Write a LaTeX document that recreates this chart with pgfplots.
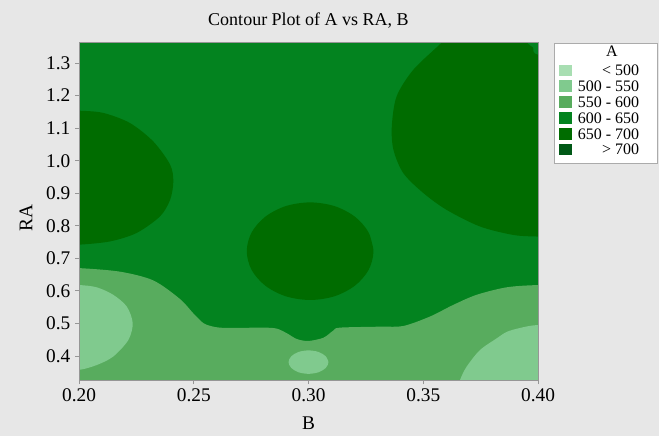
\documentclass[border=0pt]{standalone}
\usepackage{pgfplots}
\pgfplotsset{compat=1.18}
\usepackage{fontspec}
\setmainfont{Liberation Serif}
\definecolor{bggray}{RGB}{231,231,231}
\definecolor{c500}{RGB}{168,222,178}
\definecolor{c550}{RGB}{128,202,142}
\definecolor{c600}{RGB}{88,172,94}
\definecolor{c650}{RGB}{3,131,31}
\definecolor{c700}{RGB}{0,108,0}
\definecolor{c750}{RGB}{0,88,22}
\definecolor{framegray}{RGB}{150,150,150}
\begin{document}
\begin{tikzpicture}
\fill[bggray] (0,0) rectangle (494.25pt,327pt);
\begin{axis}[
  at={(59.25pt,42pt)}, anchor=south west,
  scale only axis, width=344.25pt, height=252.75pt,
  xmin=0.2, xmax=0.4, ymin=0.326, ymax=1.362,
  axis background/.style={fill=c650},
  axis on top,
  axis line style={framegray, line width=0.75pt},
  xtick={0.2,0.25,0.3,0.35,0.4},
  ytick={0.4,0.5,0.6,0.7,0.8,0.9,1.0,1.1,1.2,1.3},
  tick pos=left,
  tick align=outside, major tick length=3pt,
  tick style={framegray, line width=0.6pt},
  /pgf/number format/assume math mode=true,
  xticklabel style={/pgf/number format/fixed, /pgf/number format/fixed zerofill, /pgf/number format/precision=2},
  yticklabel style={/pgf/number format/fixed, /pgf/number format/fixed zerofill, /pgf/number format/precision=1},
  tick label style={font=\fontsize{14.5}{17}\selectfont},
  title={Contour Plot of A vs RA, B},
  every axis title/.style={at={(axis description cs:0.5,1)}, anchor=base, yshift=13.1pt, font=\fontsize{13.5}{16}\selectfont},
  xlabel={B}, ylabel={RA},
  every axis x label/.style={at={(axis description cs:0.5,0)}, anchor=base, yshift=-36.75pt, font=\fontsize{14.5}{17}\selectfont},
  every axis y label/.style={at={(axis description cs:-0.1155,0.48)}, rotate=90, anchor=center, font=\fontsize{14.5}{17}\selectfont},
  legend style={at={(axis description cs:1.0349,1)}, anchor=north west, fill=white, draw=framegray!80, line width=0.6pt,
    inner xsep=3.75pt, inner ysep=0pt, column sep=2.25pt, row sep=0pt,
    nodes={inner sep=0pt, text depth=}, cells={anchor=base west},
    font=\fontsize{12}{14}\selectfont},
]
% 550 - 600 band
\addplot[fill=c600, draw=none, smooth, tension=0.5, forget plot] coordinates {
(0.19,0.670) (0.2000,0.670) (0.2179,0.659) (0.2324,0.632) (0.2440,0.575) (0.2498,0.531) (0.2542,0.501)
(0.2585,0.490) (0.2644,0.486) (0.2803,0.487) (0.2861,0.484) (0.2905,0.470) (0.2949,0.452) (0.2999,0.446)
(0.3065,0.456) (0.3108,0.478) (0.3137,0.487) (0.3312,0.490) (0.3413,0.492) (0.3529,0.521) (0.3631,0.557)
(0.3733,0.588) (0.3864,0.611) (0.4000,0.618) (0.42,0.620) (0.42,0.29) (0.19,0.29)} -- cycle;
% 500 - 550 regions
\addplot[fill=c550, draw=none, smooth, tension=0.5, forget plot] coordinates {
(0.19,0.619) (0.2,0.618) (0.2077,0.611) (0.2149,0.588) (0.2208,0.552) (0.2234,0.501) (0.2215,0.449)
(0.2149,0.398) (0.2077,0.372) (0.2,0.357) (0.19,0.355)} -- cycle;
\addplot[fill=c550, draw=none, smooth, tension=0.55, forget plot] coordinates {
(0.3087,0.381) (0.3075,0.399) (0.30435,0.4122) (0.300,0.417) (0.29565,0.4122) (0.2925,0.399)
(0.2913,0.381) (0.2925,0.363) (0.29565,0.3498) (0.300,0.345) (0.30435,0.3498) (0.3075,0.363)
(0.3087,0.381) (0.3075,0.399)} -- cycle;
\addplot[fill=c550, draw=none, smooth, tension=0.5, forget plot] coordinates {
(0.3645,0.29) (0.3660,0.326) (0.3689,0.367) (0.3747,0.418) (0.3820,0.454) (0.3864,0.474)
(0.3922,0.486) (0.4,0.495) (0.42,0.497) (0.42,0.29)} -- cycle;
% 650 - 700 regions
\addplot[fill=c700, draw=none, smooth, tension=0.5, forget plot] coordinates {
(0.19,1.155) (0.2,1.154) (0.2106,1.147) (0.2222,1.116) (0.2324,1.059) (0.2397,0.988) (0.2411,0.936)
(0.2397,0.880) (0.2353,0.829) (0.2251,0.778) (0.2135,0.752) (0.2,0.742) (0.19,0.741)} -- cycle;
\addplot[fill=c700, draw=none, smooth, tension=0.55, forget plot] coordinates {
(0.3283,0.722) (0.3262,0.7794) (0.3202,0.8281) (0.3113,0.8606) (0.3007,0.872) (0.2901,0.8606)
(0.2812,0.8281) (0.2752,0.7794) (0.2731,0.722) (0.2752,0.6646) (0.2812,0.6159) (0.2901,0.5834)
(0.3007,0.572) (0.3113,0.5834) (0.3202,0.6159) (0.3262,0.6646) (0.3283,0.722) (0.3262,0.7794)} -- cycle;
\addplot[fill=c700, draw=none, smooth, tension=0.5, forget plot] coordinates {
(0.3625,1.40) (0.3580,1.363) (0.3457,1.280) (0.3384,1.198) (0.3363,1.106) (0.3370,1.034) (0.3413,0.962)
(0.3500,0.901) (0.3602,0.849) (0.3747,0.798) (0.3892,0.772) (0.4,0.767) (0.42,0.764) (0.42,1.31)
(0.4,1.326) (0.3978,1.348) (0.3952,1.363) (0.393,1.40)} -- cycle;
% legend
\addlegendimage{empty legend}
\addlegendentry{\rule[-4.355pt]{0pt}{14.325pt}\makebox[48pt][c]{\hspace*{7pt}A}\hspace*{9.75pt}}
\addlegendimage{legend image code/.code={\fill[c500] (0pt,-0.05pt) rectangle (9pt,8.15pt);}}
\addlegendentry{\rule[-1.875pt]{0pt}{11.85pt}\makebox[48pt][r]{< 500}\hspace*{9.75pt}}
\addlegendimage{legend image code/.code={\fill[c550] (0pt,-0.05pt) rectangle (9pt,8.15pt);}}
\addlegendentry{\rule[-1.875pt]{0pt}{11.85pt}\makebox[48pt][r]{500 - 550}\hspace*{9.75pt}}
\addlegendimage{legend image code/.code={\fill[c600] (0pt,-0.05pt) rectangle (9pt,8.15pt);}}
\addlegendentry{\rule[-1.875pt]{0pt}{11.85pt}\makebox[48pt][r]{550 - 600}\hspace*{9.75pt}}
\addlegendimage{legend image code/.code={\fill[c650] (0pt,-0.05pt) rectangle (9pt,8.15pt);}}
\addlegendentry{\rule[-1.875pt]{0pt}{11.85pt}\makebox[48pt][r]{600 - 650}\hspace*{9.75pt}}
\addlegendimage{legend image code/.code={\fill[c700] (0pt,-0.05pt) rectangle (9pt,8.15pt);}}
\addlegendentry{\rule[-1.875pt]{0pt}{11.85pt}\makebox[48pt][r]{650 - 700}\hspace*{9.75pt}}
\addlegendimage{legend image code/.code={\fill[c750] (0pt,-0.05pt) rectangle (9pt,8.15pt);}}
\addlegendentry{\rule[-6.45pt]{0pt}{16.425pt}\makebox[48pt][r]{> 700}\hspace*{9.75pt}}
\end{axis}
\end{tikzpicture}
\end{document}
